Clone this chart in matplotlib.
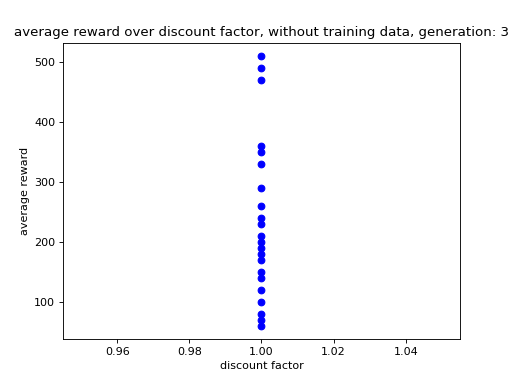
import numpy as np
import matplotlib
matplotlib.use('Agg')
import matplotlib.pyplot as plt

# average reward for each run, all at discount factor 1.0
reward = [510, 490, 470, 360, 350, 330, 290, 260, 240, 230,
          210, 200, 190, 180, 170, 150, 140, 120, 100, 80, 70, 60]
discount = [1.0] * len(reward)

fig = plt.figure(figsize=(509 / 80, 379 / 80), dpi=80)
ax = fig.add_axes([0.1238, 0.1055, 0.7799, 0.781])
ax.scatter(discount, reward, color='blue')
ax.set_xlabel('discount factor')
ax.set_ylabel('average reward')
ax.set_title('average reward over discount factor, without training data, generation: 3')
fig.savefig('out.png', dpi=80)
